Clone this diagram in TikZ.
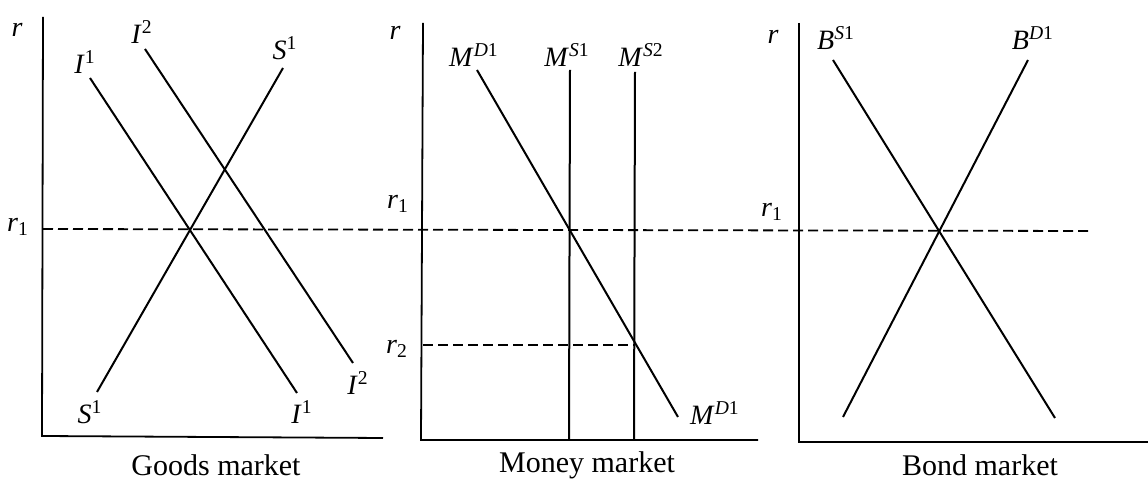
\documentclass[tikz,border=0pt]{standalone}
\usepackage{fontspec}
\setmainfont{Liberation Serif}
\newcommand\slab[2]{\textit{#1}\textsuperscript{#2}}
\begin{document}
\begin{tikzpicture}[x=0.5pt,y=-0.5pt,
  curve/.style={line width=1pt},
  axis/.style={line width=0.9pt},
  guide/.style={line width=0.9pt, dash pattern=on 5pt off 2.5pt},
  lbl/.style={font=\fontsize{14}{16}\selectfont, inner sep=0pt},
  ttl/.style={font=\fontsize{15}{18}\selectfont, inner sep=0pt}]
\useasboundingbox (0,0) rectangle (1148,491);
% ---------- Goods market ----------
\coordinate (gtop) at (43,17);
\coordinate (gorg) at (42,436);
\coordinate (gend) at (383,438);
\draw[axis] (gtop) -- (gorg) -- (gend);
\coordinate (i1a) at (90,78);  \coordinate (i1b) at (297,393);
\coordinate (i2a) at (145,49); \coordinate (i2b) at (353,363);
\coordinate (s1a) at (97,392); \coordinate (s1b) at (283,68);
\draw[curve] (i1a) -- (i1b);
\draw[curve] (i2a) -- (i2b);
\draw[curve] (s1a) -- (s1b);
\node[lbl] (gr)   at (17,30)  {\textit{r}};
\node[lbl] (gr1)  at (18,227) {\textit{r}\textsubscript{1}};
\node[lbl] (li1t) at (85,62)  {\slab{I}{1}};
\node[lbl] (li2t) at (142,32) {\slab{I}{2}};
\node[lbl] (ls1t) at (285,48) {\slab{S}{1}};
\node[lbl] (ls1b) at (90,412) {\slab{S}{1}};
\node[lbl] (li1b) at (302,412) {\slab{I}{1}};
\node[lbl] (li2b) at (358,383) {\slab{I}{2}};
\node[ttl] (tg) at (216,465) {Goods market};
% ---------- Money market ----------
\coordinate (mtop) at (423,23);
\coordinate (morg) at (421,440);
\coordinate (mend) at (758,440);
\draw[axis] (mtop) -- (morg) -- (mend);
\coordinate (mda) at (477,70);  \coordinate (mdb) at (678,417);
\coordinate (ms1a) at (570,70); \coordinate (ms1b) at (569,440);
\coordinate (ms2a) at (635,72); \coordinate (ms2b) at (634,440);
\coordinate (r2a) at (423,345); \coordinate (r2b) at (634,345);
\draw[curve] (mda) -- (mdb);
\draw[curve] (ms1a) -- (ms1b);
\draw[curve] (ms2a) -- (ms2b);
\draw[guide] (r2a) -- (r2b);
\node[lbl] (mr)  at (395,33)  {\textit{r}};
\node[lbl] (mr1) at (398,204) {\textit{r}\textsubscript{1}};
\node[lbl] (mr2) at (397,349) {\textit{r}\textsubscript{2}};
\node[lbl] (lmdt) at (474,55) {\slab{M}{\textit{D}1}};
\node[lbl] (lms1) at (567,55) {\slab{M}{\textit{S}1}};
\node[lbl] (lms2) at (641,55) {\slab{M}{\textit{S}2}};
\node[lbl] (lmdb) at (715,413) {\slab{M}{\textit{D}1}};
\node[ttl] (tm) at (587,465) {Money market};
% ---------- Bond market ----------
\coordinate (btop) at (799,23);
\coordinate (borg) at (799,442);
\coordinate (bend) at (1148,442);
\draw[axis] (btop) -- (borg) -- (bend);
\coordinate (bsa) at (833,60);  \coordinate (bsb) at (1055,418);
\coordinate (bda) at (843,417); \coordinate (bdb) at (1028,60);
\draw[curve] (bsa) -- (bsb);
\draw[curve] (bda) -- (bdb);
\node[lbl] (br)  at (773,37)  {\textit{r}};
\node[lbl] (br1) at (772,212) {\textit{r}\textsubscript{1}};
\node[lbl] (lbs) at (836,38)  {\slab{B}{\textit{S}1}};
\node[lbl] (lbd) at (1033,38) {\slab{B}{\textit{D}1}};
\node[ttl] (tb) at (980,465) {Bond market};
% ---------- r1 guide across all ----------
\coordinate (r1a) at (43,229);
\coordinate (r1b) at (1088,231);
\draw[guide] (r1a) -- (r1b);
\end{tikzpicture}
\end{document}
